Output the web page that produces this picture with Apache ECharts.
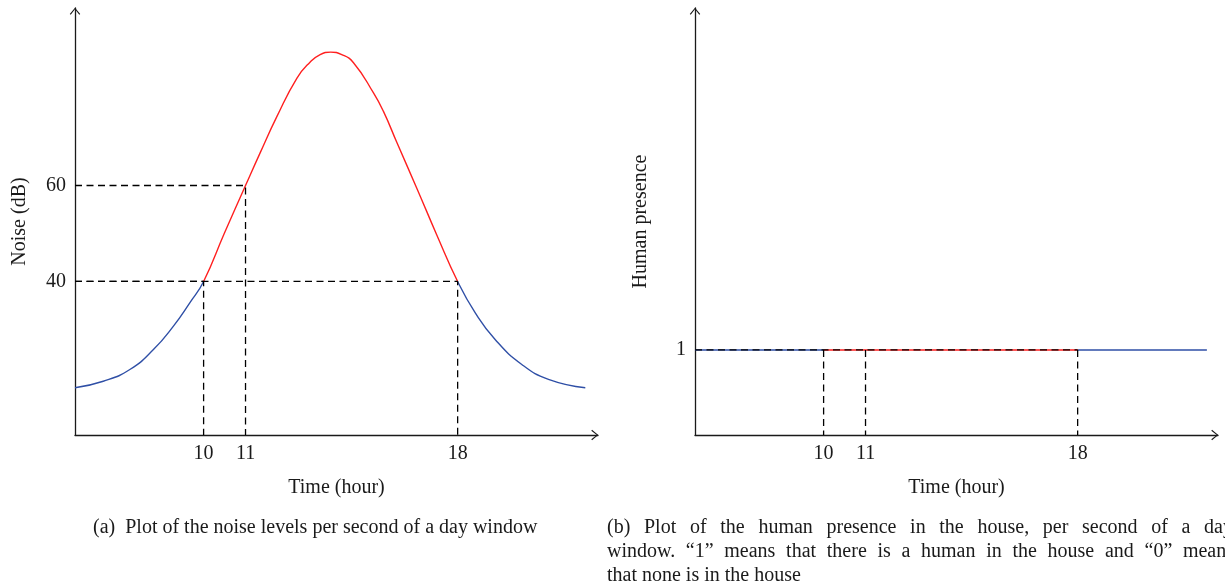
<!DOCTYPE html>
<html>
<head>
<meta charset="utf-8">
<script src="https://cdn.jsdelivr.net/npm/echarts@6/dist/echarts.min.js"></script>
<style>
html,body{margin:0;padding:0;background:#fff;}
#chart{width:1225px;height:586px;}
</style>
</head>
<body>
<div id="chart"></div>
<script>
// ---- Data ----
// (a) noise level curve: hour position vs dB
const noiseHours = [5.95, 6.84, 7.69, 8.42, 9.05, 9.57, 10.0, 10.65, 11.32, 11.78, 12.31, 12.94, 13.35, 13.67, 14.0, 14.35, 14.72, 15.35, 15.66, 16.09, 16.71, 17.35, 18.0, 18.55, 19.18, 20.02, 20.86, 22.02];
const noiseDb    = [17.85, 19.2, 21.7, 25.8, 30.7, 35.6, 40.0, 50.0, 60.0, 66.8, 74.4, 82.4, 85.7, 87.3, 87.8, 87.3, 85.6, 79.3, 75.5, 68.9, 59.5, 49.6, 40.0, 33.5, 27.9, 22.7, 19.6, 17.85];
const noiseThreshold = 40;

// (b) human presence: hour position vs presence flag
const presenceHours = [5.95, 10.0, 18.0, 22.07];
const presenceValue = [1, 1, 1, 1];
const presenceRedStart = 10.0;
const presenceRedEnd = 18.0;

// Tick positions / labels (hour axis is schematic in the reference)
const xTickPos = [10, 11.32, 18];
const xTickLabels = ['10', '11', '18'];
const noiseTickValues = [40, 60];
const presenceTickValues = [1];

// Dashed guide corners: (hour, level)
const noiseGuideHours = [10, 11.32, 18];
const noiseGuideDb = [40, 60, 40];
const presenceGuideHours = [10, 11.32, 18];

// Axis ranges
const hourMin = 5.95, hourMax = 22.42;
const dbMin = 8, dbMax = 97;
const presMin = 0, presMax = 5.02;

// Captions
const captionA = '(a)  Plot of the noise levels per second of a day window';
const captionB = [
  '(b)  Plot of the human presence in the house, per second of a day',
  'window. \u201c1\u201d means that there is a human in the house and \u201c0\u201d means',
  'that none is in the house'
];

// ---- Build ----
const FONT = 'Liberation Serif';
const BLUE = '#2f4fa6';
const RED = '#ff1f1f';
const INK = '#1a1a1a';
const ARROW = 'path://M5,0 L10,6 L9.1,6.7 L5,1.5 L0.9,6.7 L0,6 Z';
const FS = 20;

function xLabel(v) {
  for (let i = 0; i < xTickPos.length; i++) {
    if (Math.abs(xTickPos[i] - v) < 1e-6) return xTickLabels[i];
  }
  return '';
}

function axisLineStyle() {
  return { show: true, symbol: ['none', ARROW], symbolSize: [12, 7], symbolOffset: [0, -3.2], lineStyle: { color: INK, width: 1.3 } };
}

function xAxisDef(gridIndex) {
  return {
    type: 'value', gridIndex, min: hourMin, max: hourMax,
    name: 'Time (hour)', nameLocation: 'middle', nameGap: 43,
    nameTextStyle: { fontFamily: FONT, fontSize: FS, color: INK },
    axisLine: axisLineStyle(),
    axisTick: { show: false },
    splitLine: { show: false },
    axisLabel: { customValues: xTickPos, formatter: xLabel, fontFamily: FONT, fontSize: FS, color: INK, margin: 9 }
  };
}

const guideStyle = { color: '#000', width: 1.3, type: [7, 4.5] };
const series = [];

noiseGuideHours.forEach((h, i) => {
  series.push({
    type: 'line', xAxisIndex: 0, yAxisIndex: 0, symbol: 'none', silent: true, z: 3,
    lineStyle: guideStyle,
    data: [[hourMin, noiseGuideDb[i]], [h, noiseGuideDb[i]], [h, dbMin]]
  });
});
series.push({
  type: 'line', xAxisIndex: 0, yAxisIndex: 0, symbol: 'none', smooth: 0.5, z: 2, silent: true,
  lineStyle: { width: 1.4 }, data: noiseHours.map((h, i) => [h, noiseDb[i]])
});
const noiseSeriesIndex = series.length - 1;

series.push({
  type: 'line', xAxisIndex: 1, yAxisIndex: 1, symbol: 'none', z: 2, silent: true,
  lineStyle: { width: 1.4 }, data: presenceHours.map((h, i) => [h, presenceValue[i]])
});
const presenceSeriesIndex = series.length - 1;

const presLevel = presenceValue[0];
const maxGuide = Math.max.apply(null, presenceGuideHours);
series.push({
  type: 'line', xAxisIndex: 1, yAxisIndex: 1, symbol: 'none', silent: true, z: 3,
  lineStyle: guideStyle,
  data: [[hourMin, presLevel], [maxGuide, presLevel]]
});
presenceGuideHours.forEach((h) => {
  series.push({
    type: 'line', xAxisIndex: 1, yAxisIndex: 1, symbol: 'none', silent: true, z: 3,
    lineStyle: guideStyle,
    data: [[h, presLevel], [h, presMin]]
  });
});

// caption layout (justified lines like the typeset original)
const capFont = '20px "Liberation Serif"';
const measureCtx = document.createElement('canvas').getContext('2d');
measureCtx.font = capFont;
function justified(text, left, top, width) {
  const words = text.split(' ').filter(w => w.length);
  const widths = words.map(w => measureCtx.measureText(w).width);
  const total = widths.reduce((a, b) => a + b, 0);
  const gap = (width - total) / (words.length - 1);
  let x = left;
  return words.map((w, i) => {
    const el = { type: 'text', left: Math.round(x * 10) / 10, top, silent: true, style: { text: w, font: capFont, fill: INK } };
    x += widths[i] + gap;
    return el;
  });
}
const graphics = [
  { type: 'text', left: 93, top: 518, silent: true, style: { text: captionA, font: capFont, fill: INK } }
]
  .concat(justified(captionB[0], 607, 518, 626))
  .concat(justified(captionB[1], 607, 542, 627))
  .concat([{ type: 'text', left: 607, top: 566, silent: true, style: { text: captionB[2], font: capFont, fill: INK } }]);

const option = {
  animation: false,
  backgroundColor: '#ffffff',
  textStyle: { fontFamily: FONT },
  grid: [
    { left: 75, top: 8, width: 523, height: 427, containLabel: false },
    { left: 695, top: 8, width: 523, height: 427, containLabel: false }
  ],
  xAxis: [xAxisDef(0), xAxisDef(1)],
  yAxis: [
    {
      type: 'value', gridIndex: 0, min: dbMin, max: dbMax,
      name: 'Noise (dB)', nameLocation: 'middle', nameGap: 45,
      nameTextStyle: { fontFamily: FONT, fontSize: FS, color: INK },
      axisLine: axisLineStyle(), axisTick: { show: false }, splitLine: { show: false },
      axisLabel: { customValues: noiseTickValues, fontFamily: FONT, fontSize: FS, color: INK, margin: 9 }
    },
    {
      type: 'value', gridIndex: 1, min: presMin, max: presMax,
      name: 'Human presence', nameLocation: 'middle', nameGap: 44,
      nameTextStyle: { fontFamily: FONT, fontSize: FS, color: INK },
      axisLine: axisLineStyle(), axisTick: { show: false }, splitLine: { show: false },
      axisLabel: { customValues: presenceTickValues, fontFamily: FONT, fontSize: FS, color: INK, margin: 9 }
    }
  ],
  visualMap: [
    {
      type: 'piecewise', show: false, seriesIndex: noiseSeriesIndex, dimension: 1,
      pieces: [{ min: dbMin, max: noiseThreshold, color: BLUE }, { min: noiseThreshold, max: dbMax, color: RED }]
    },
    {
      type: 'piecewise', show: false, seriesIndex: presenceSeriesIndex, dimension: 0,
      pieces: [
        { min: hourMin, max: presenceRedStart, color: BLUE },
        { min: presenceRedStart, max: presenceRedEnd, color: RED },
        { min: presenceRedEnd, max: hourMax, color: BLUE }
      ]
    }
  ],
  graphic: graphics,
  series: series
};

const chart = echarts.init(document.getElementById('chart'), null, { renderer: 'canvas' });
chart.setOption(option);
</script>
</body>
</html>
